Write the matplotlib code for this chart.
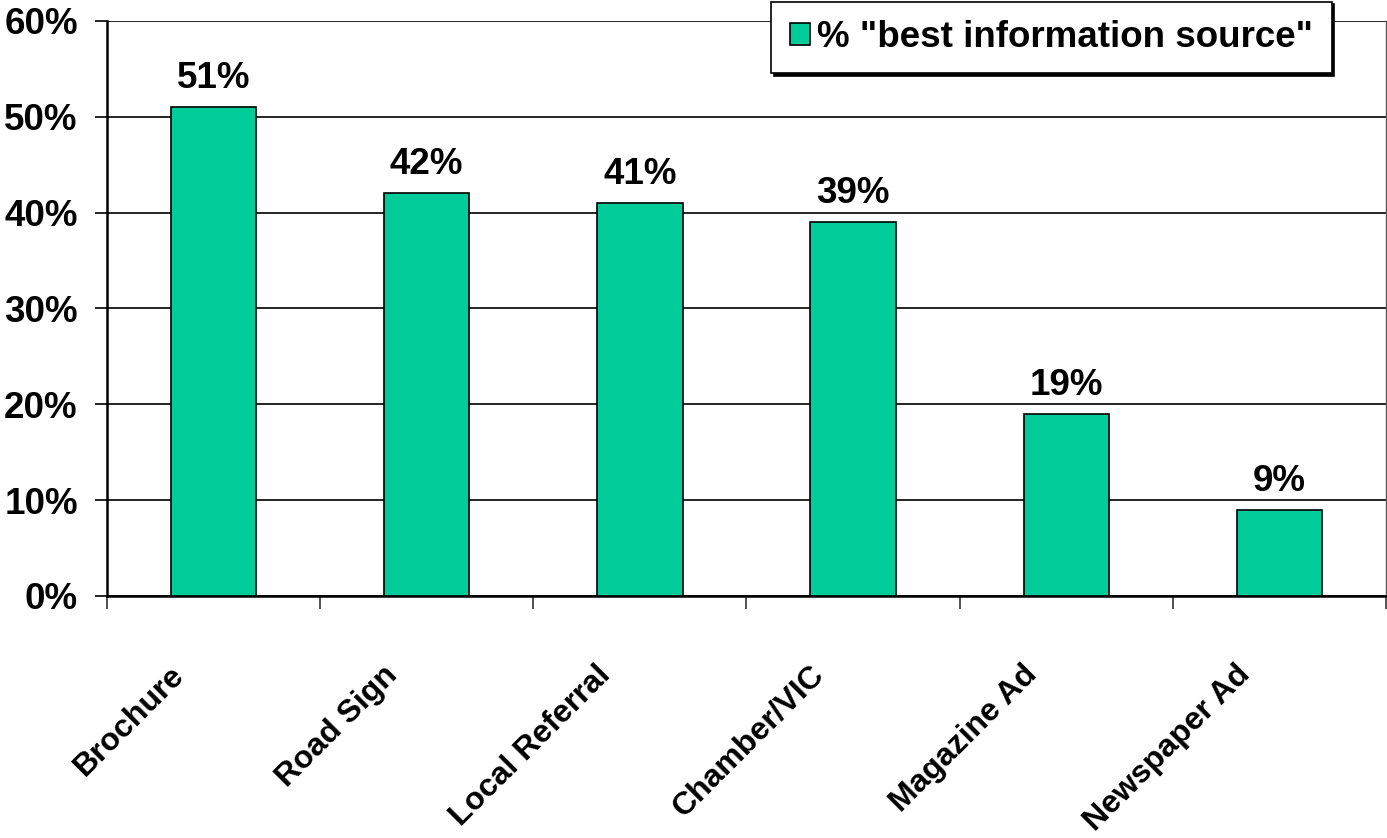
import numpy as np
import matplotlib.pyplot as plt
import matplotlib.transforms as mtransforms

# data
categories = ['Brochure', 'Road Sign', 'Local Referral', 'Chamber/VIC', 'Magazine Ad', 'Newspaper Ad']
pct_best = [51, 42, 41, 39, 19, 9]
series_name = '% "best information source"'

plt.rcParams['font.family'] = ['Liberation Sans', 'DejaVu Sans']
plt.rcParams['font.weight'] = 'bold'

fig = plt.figure(figsize=(13.87, 8.38), dpi=100)
ax = fig.add_axes([0.0771, 0.2888, 0.9222, 0.6862])

x = np.arange(len(categories))
bars = ax.bar(x, pct_best, width=0.4, color='#00CC99', edgecolor='black', linewidth=1.2,
              label=series_name, zorder=3)

# value labels above each bar
for xi, v in zip(x, pct_best):
    ax.annotate(f'{v}%', (xi, v), xytext=(0, 8), textcoords='offset points',
                ha='center', va='bottom', fontsize=26.5, fontweight='bold')

ax.set_xlim(-0.5, len(categories) - 0.5)
ax.set_ylim(0, 60)
ax.set_yticks(np.arange(0, 61, 10))
ax.set_yticklabels([f'{t}%' for t in range(0, 61, 10)], fontsize=26.5, fontweight='bold')
ax.yaxis.grid(True, color='black', linewidth=1.2, zorder=0)
ax.tick_params(axis='y', length=9, width=1.2, pad=12)

# ticks at category boundaries, labels at centres
ax.set_xticks(np.arange(-0.5, len(categories), 1.0))
ax.set_xticklabels([])
ax.tick_params(axis='x', which='major', length=9, width=1.2, color='#333333')
ax.set_xticks(x, minor=True)
ax.set_xticklabels(categories, minor=True, rotation=45, ha='right', va='top',
                   rotation_mode='anchor', fontsize=23, fontweight='bold')
ax.tick_params(axis='x', which='minor', length=0, pad=46)
offset = mtransforms.ScaledTranslation(-0.44, 0, fig.dpi_scale_trans)
for lbl in ax.get_xticklabels(minor=True):
    lbl.set_transform(lbl.get_transform() + offset)

ax.spines['top'].set_visible(False)
ax.spines['left'].set_linewidth(1.8)
ax.spines['bottom'].set_linewidth(1.8)
ax.spines['right'].set_color('#555555')
ax.spines['right'].set_linewidth(1)

leg = ax.legend(loc='upper right', bbox_to_anchor=(0.960, 0.998), bbox_transform=fig.transFigure,
                borderaxespad=0, fancybox=False, framealpha=1, edgecolor='black',
                shadow={'color': 'black', 'alpha': 1}, handlelength=0.55, handleheight=0.55,
                handletextpad=0.2, borderpad=0.5, prop={'size': 26.5, 'weight': 'bold'})
leg.get_frame().set_linewidth(1.2)

plt.savefig('out.png', dpi=100)
